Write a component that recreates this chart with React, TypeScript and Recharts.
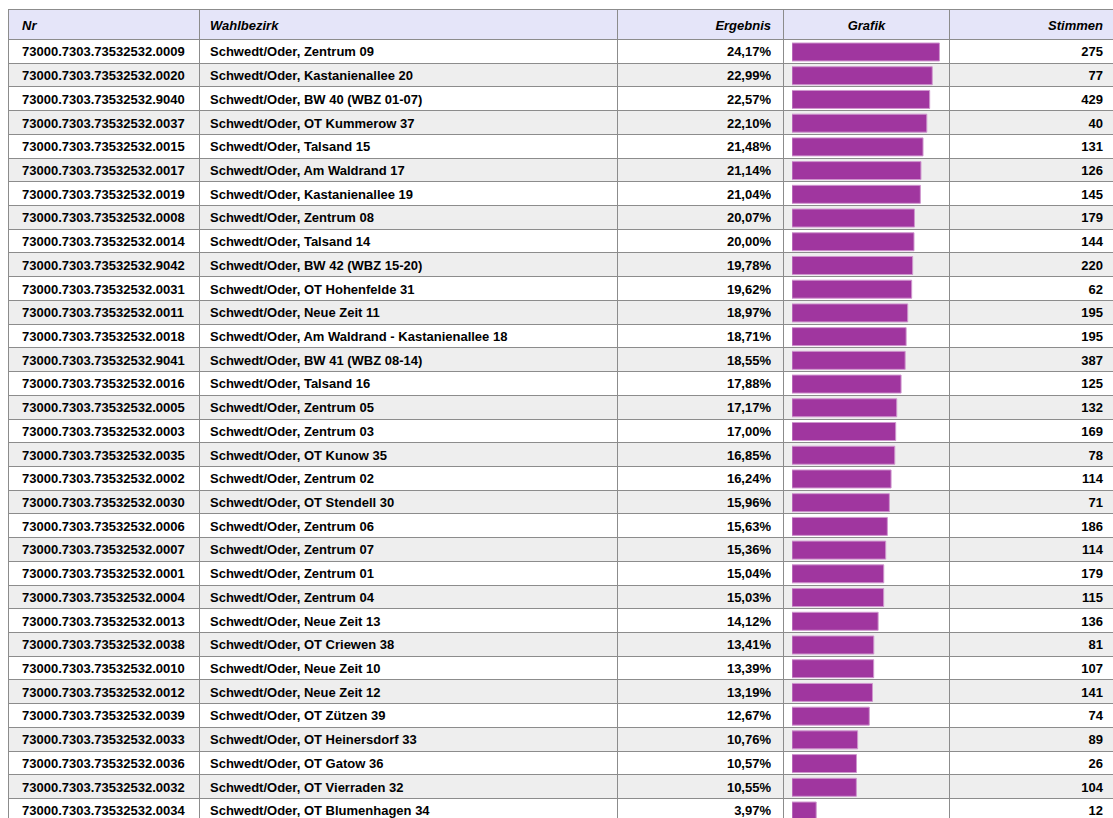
import React from 'react';
import { BarChart, Bar, XAxis, YAxis } from 'recharts';

const PREFIX = '73000.7303.73532532.';

const ids = [
  '0009', '0020', '9040', '0037', '0015', '0017', '0019', '0008', '0014', '9042', '0031',
  '0011', '0018', '9041', '0016', '0005', '0003', '0035', '0002', '0030', '0006', '0007',
  '0001', '0004', '0013', '0038', '0010', '0012', '0039', '0033', '0036', '0032', '0034',
];

const districts = [
  'Zentrum 09', 'Kastanienallee 20', 'BW 40 (WBZ 01-07)', 'OT Kummerow 37', 'Talsand 15',
  'Am Waldrand 17', 'Kastanienallee 19', 'Zentrum 08', 'Talsand 14', 'BW 42 (WBZ 15-20)',
  'OT Hohenfelde 31', 'Neue Zeit 11', 'Am Waldrand - Kastanienallee 18', 'BW 41 (WBZ 08-14)',
  'Talsand 16', 'Zentrum 05', 'Zentrum 03', 'OT Kunow 35', 'Zentrum 02', 'OT Stendell 30',
  'Zentrum 06', 'Zentrum 07', 'Zentrum 01', 'Zentrum 04', 'Neue Zeit 13', 'OT Criewen 38',
  'Neue Zeit 10', 'Neue Zeit 12', 'OT Zützen 39', 'OT Heinersdorf 33', 'OT Gatow 36',
  'OT Vierraden 32', 'OT Blumenhagen 34',
];

const shares = [
  24.17, 22.99, 22.57, 22.1, 21.48, 21.14, 21.04, 20.07, 20.0, 19.78, 19.62,
  18.97, 18.71, 18.55, 17.88, 17.17, 17.0, 16.85, 16.24, 15.96, 15.63, 15.36,
  15.04, 15.03, 14.12, 13.41, 13.39, 13.19, 12.67, 10.76, 10.57, 10.55, 3.97,
];

const votes = [
  275, 77, 429, 40, 131, 126, 145, 179, 144, 220, 62,
  195, 195, 387, 125, 132, 169, 78, 114, 71, 186, 114,
  179, 115, 136, 81, 107, 141, 74, 89, 26, 104, 12,
];

const ROW_H = 23.72;
const HEADER_H = 31;
const LINE = '1px solid #8c8c8c';
const COLS = [191, 418, 166, 166, 166];

const chartData = ids.map((id, i) => ({ name: id, value: shares[i] }));

const fmt = (v: number) => v.toFixed(2).replace('.', ',') + '%';

const cell = (i: number, align: 'left' | 'right' | 'center', pad: number): React.CSSProperties => ({
  width: COLS[i],
  boxSizing: 'border-box',
  borderRight: LINE,
  paddingLeft: align === 'left' ? pad : 0,
  paddingRight: align === 'right' ? pad : 0,
  paddingTop: 1,
  whiteSpace: 'nowrap',
  overflow: 'hidden',
  display: 'flex',
  alignItems: 'center',
  justifyContent: align === 'left' ? 'flex-start' : align === 'right' ? 'flex-end' : 'center',
});

const App: React.FC = () => {
  const tableTop = 9;
  return (
    <div
      style={{
        position: 'fixed',
        left: 0,
        top: 0,
        width: 1113,
        height: 818,
        overflow: 'hidden',
        background: '#fff',
        fontFamily: '"Liberation Sans", Arial, Helvetica, sans-serif',
        fontSize: 13,
        fontWeight: 'bold',
        color: '#000',
      }}
    >
      <div style={{ position: 'absolute', left: 8, top: tableTop, borderLeft: LINE, borderTop: LINE }}>
        <div
          style={{
            display: 'flex',
            height: HEADER_H - 1,
            boxSizing: 'border-box',
            borderBottom: LINE,
            background: '#e5e5f9',
            fontStyle: 'italic',
          }}
        >
          <div style={cell(0, 'left', 13)}>Nr</div>
          <div style={cell(1, 'left', 10)}>Wahlbezirk</div>
          <div style={cell(2, 'right', 12)}>Ergebnis</div>
          <div style={cell(3, 'center', 0)}>Grafik</div>
          <div style={cell(4, 'right', 12)}>Stimmen</div>
        </div>
        {ids.map((id, i) => (
          <div
            key={id}
            style={{
              display: 'flex',
              height: ROW_H,
              boxSizing: 'border-box',
              borderBottom: LINE,
              background: i % 2 === 1 ? '#eeeeee' : '#ffffff',
            }}
          >
            <div style={cell(0, 'left', 13)}>{PREFIX + id}</div>
            <div style={cell(1, 'left', 10)}>{'Schwedt/Oder, ' + districts[i]}</div>
            <div style={cell(2, 'right', 12)}>{fmt(shares[i])}</div>
            <div style={cell(3, 'center', 0)} />
            <div style={cell(4, 'right', 12)}>{votes[i]}</div>
          </div>
        ))}
      </div>
      <div style={{ position: 'absolute', left: 792, top: tableTop + HEADER_H }}>
        <BarChart
          width={152.5}
          height={ROW_H * ids.length}
          data={chartData}
          layout="vertical"
          margin={{ top: 0, right: 0, bottom: 0, left: 0 }}
        >
          <XAxis type="number" domain={[0, 25]} hide />
          <YAxis type="category" dataKey="name" hide width={0} />
          <Bar
            dataKey="value"
            fill="#a0369f"
            stroke="#cf97ce"
            strokeWidth={1}
            barSize={18}
            isAnimationActive={false}
          />
        </BarChart>
      </div>
    </div>
  );
};

export default App;
